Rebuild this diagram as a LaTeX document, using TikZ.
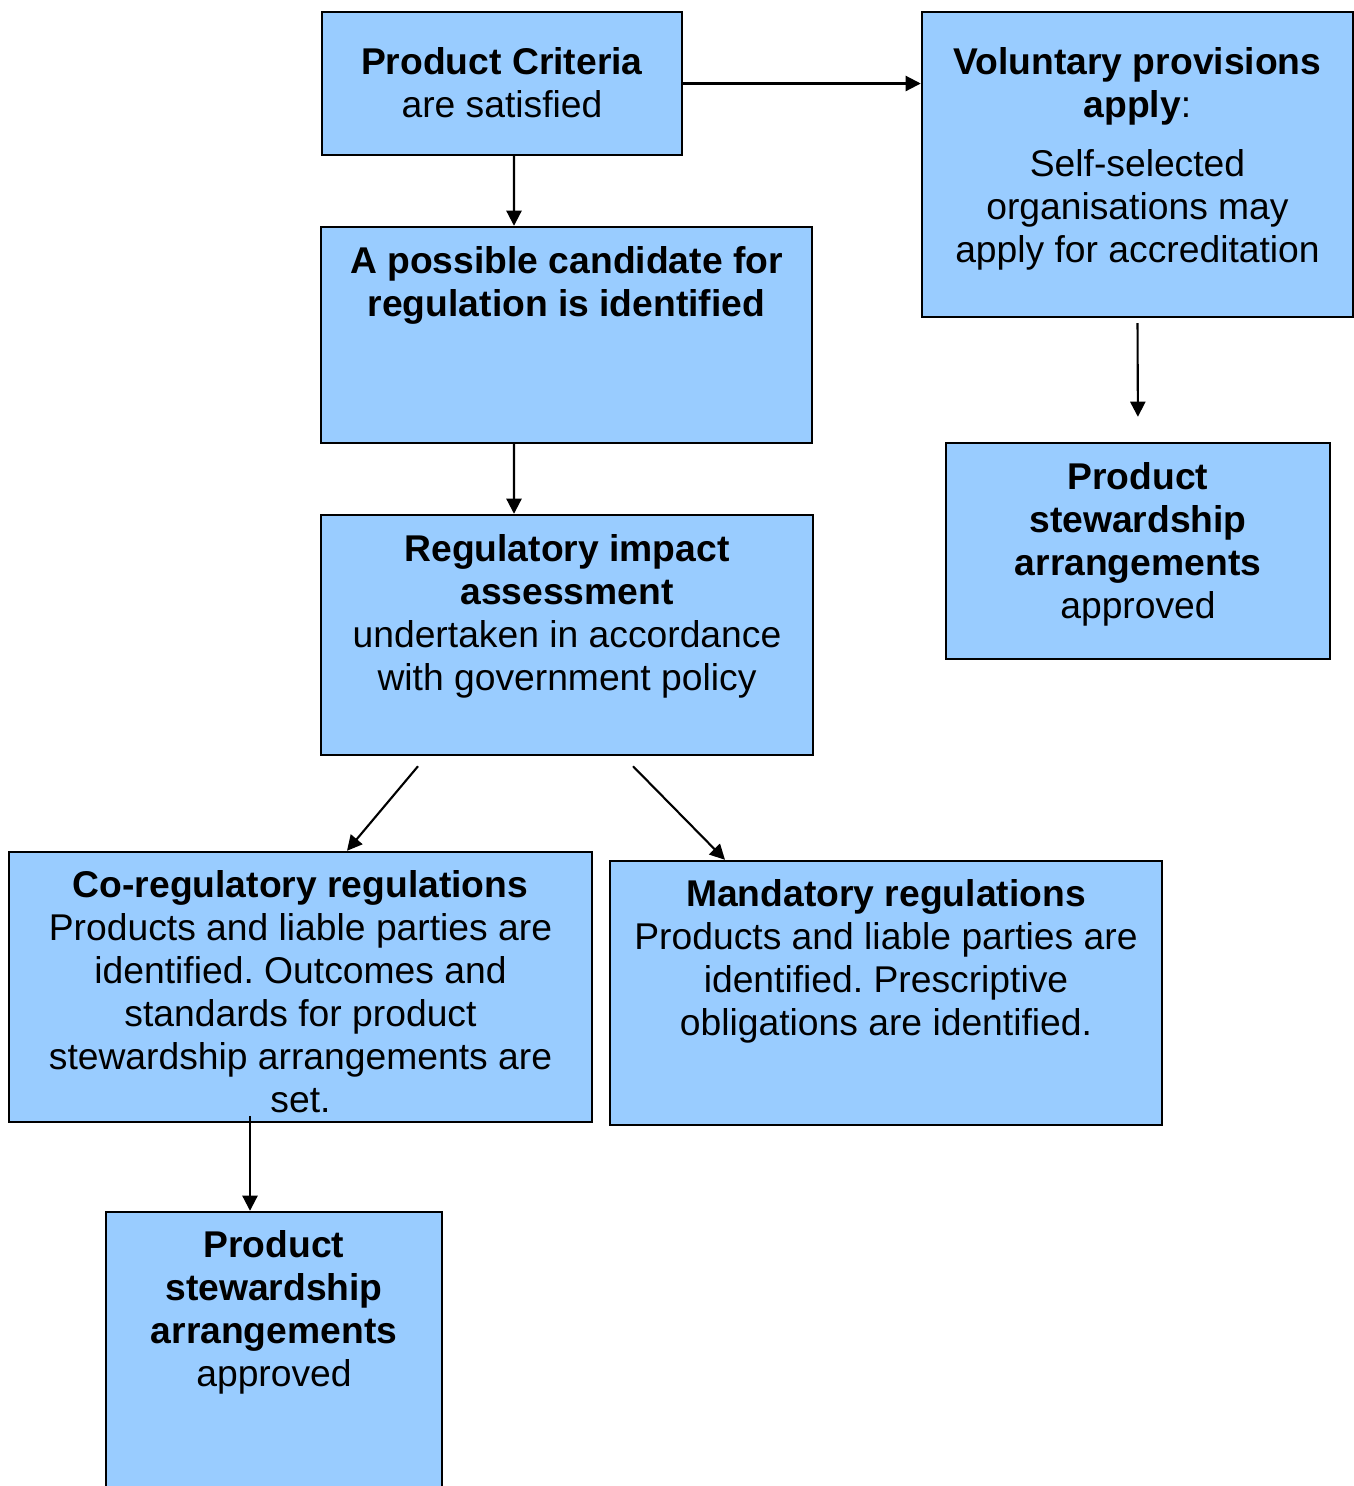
\documentclass[tikz,border=0pt]{standalone}
\usepackage{fontspec}
\setmainfont{Liberation Sans}
\usetikzlibrary{positioning,arrows.meta}
\definecolor{boxblue}{HTML}{99CCFF}
\frenchspacing

\begin{document}
\begin{tikzpicture}[
  box/.style={draw, fill=boxblue, line width=0.7pt, inner sep=0pt},
  txt/.style={align=center, inner sep=0pt, font=\fontsize{10.6}{12.25}\selectfont},
  arr/.style={line width=0.6pt, -{Triangle[length=4.3pt,width=4.3pt]}}
]
\clip (0,0) rectangle (13.54,-14.86);

% boxes
\node[box, minimum width=3.60cm, minimum height=1.43cm] (crit) at (5.02,-0.835) {};
\node[box, minimum width=4.31cm, minimum height=3.05cm] (vol) at (11.375,-1.645) {};
\node[box, minimum width=4.91cm, minimum height=2.16cm] (cand) at (5.665,-3.35) {};
\node[box, minimum width=3.84cm, minimum height=2.16cm] (stewA) at (11.38,-5.51) {};
\node[box, minimum width=4.92cm, minimum height=2.40cm] (reg) at (5.67,-6.35) {};
\node[box, minimum width=5.83cm, minimum height=2.70cm] (coreg) at (3.005,-9.87) {};
\node[box, minimum width=5.52cm, minimum height=2.64cm] (mand) at (8.86,-9.93) {};
\node[box, minimum width=3.36cm, minimum height=3.08cm] (stewB) at (2.74,-13.66) {};

% texts
\node[txt, below=0.36cm of crit.north] (crit-t) {\textbf{Product Criteria}\\are satisfied};
\node[txt, below=0.36cm of vol.north] (vol-t) {\textbf{Voluntary provisions}\\\textbf{apply}:\\[0.16cm]Self-selected\\organisations may\\apply for accreditation};
\node[txt, below=0.20cm of cand.north] (cand-t) {\textbf{A possible candidate for}\\\textbf{regulation is identified}};
\node[txt, below=0.20cm of stewA.north] (stewA-t) {\textbf{Product}\\\textbf{stewardship}\\\textbf{arrangements}\\approved};
\node[txt, below=0.20cm of reg.north] (reg-t) {\textbf{Regulatory impact}\\\textbf{assessment}\\undertaken in accordance\\with government policy};
\node[txt, below=0.19cm of coreg.north] (coreg-t) {\textbf{Co-regulatory regulations}\\Products and liable parties are\\identified. Outcomes and\\standards for product\\stewardship arrangements are\\set.};
\node[txt, below=0.19cm of mand.north] (mand-t) {\textbf{Mandatory regulations}\\Products and liable parties are\\identified. Prescriptive\\obligations are identified.};
\node[txt, below=0.19cm of stewB.north] (stewB-t) {\textbf{Product}\\\textbf{stewardship}\\\textbf{arrangements}\\approved};

% arrows
\draw[arr] ([xshift=0.12cm]crit.south) -- ([xshift=-0.525cm]cand.north);
\draw[arr] (crit.east) -- (crit.east -| vol.west);
\draw[arr] ([xshift=-0.525cm]cand.south) -- ([xshift=-0.53cm]reg.north);
\draw[arr, shorten <=0.05cm, shorten >=0.25cm] (vol.south) -- (stewA.north);
\draw[arr] ([xshift=-1.49cm,yshift=-0.1cm]reg.south) -- ([xshift=0.465cm]coreg.north);
\draw[arr] ([xshift=0.66cm,yshift=-0.1cm]reg.south) -- ([xshift=-1.61cm]mand.north);
\draw[arr] ([xshift=-0.505cm,yshift=0.07cm]coreg.south) -- ([xshift=-0.24cm]stewB.north);
\end{tikzpicture}
\end{document}
